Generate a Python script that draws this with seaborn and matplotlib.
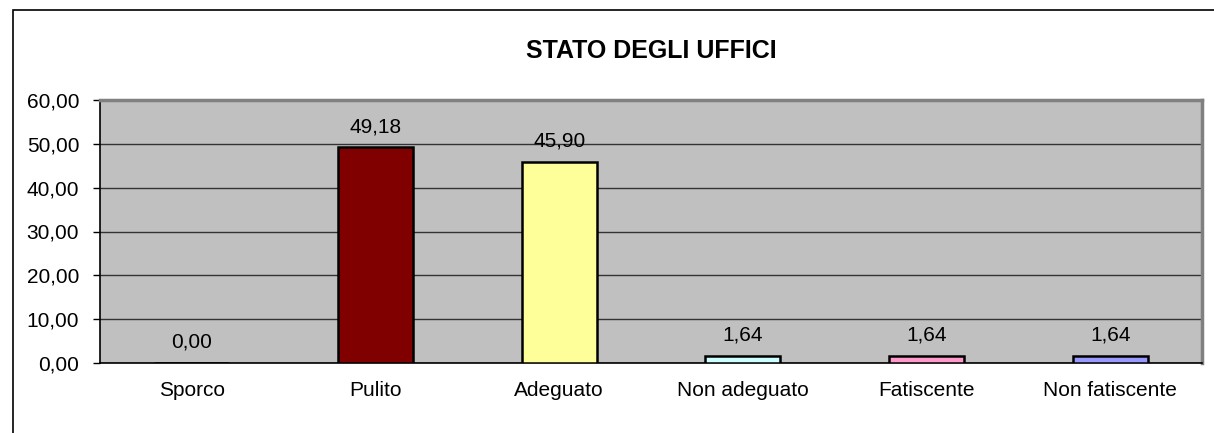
import matplotlib
matplotlib.use("Agg")
import matplotlib.pyplot as plt
import seaborn as sns
import pandas as pd
from matplotlib.patches import Rectangle
from matplotlib.ticker import FuncFormatter, FixedLocator

# dati del grafico
categorie = ["Sporco", "Pulito", "Adeguato", "Non adeguato", "Fatiscente", "Non fatiscente"]
valori = [0.00, 49.18, 45.90, 1.64, 1.64, 1.64]
colori = ["#9999FF", "#800000", "#FFFF99", "#CCFFFF", "#FF99CC", "#9999FF"]
titolo = "STATO DEGLI UFFICI"

df = pd.DataFrame({"categoria": categorie, "valore": valori})

sns.set_style("white")
plt.rcParams["font.family"] = ["Liberation Sans", "DejaVu Sans"]
plt.rcParams["text.color"] = "black"
plt.rcParams["xtick.color"] = "black"
plt.rcParams["ytick.color"] = "black"

fig = plt.figure(figsize=(12.14, 4.33), dpi=100)
ax = fig.add_axes([100 / 1214, 1 - 363 / 433, 1102 / 1214, 263 / 433])
ax.set_facecolor("#C0C0C0")

sns.barplot(data=df, x="categoria", y="valore", hue="categoria",
            palette=dict(zip(categorie, colori)), legend=False, saturation=1,
            width=0.41, edgecolor="black", linewidth=1.8, ax=ax, zorder=3)

# etichette dei valori
fs = 15
for cont, v in zip(ax.containers, valori):
    ax.bar_label(cont, labels=[f"{v:.2f}".replace(".", ",")], padding=8,
                 fontsize=fs, color="black")

ax.set_xlim(-0.5, len(categorie) - 0.5)
ax.set_ylim(0, 60)
ax.set_yticks(range(0, 61, 10))
ax.yaxis.set_major_formatter(FuncFormatter(lambda v, p: f"{v:.2f}".replace(".", ",")))
ax.grid(axis="y", color="#333333", linewidth=1, zorder=1)
ax.set_axisbelow(True)

ax.xaxis.set_minor_locator(FixedLocator([i - 0.5 for i in range(len(categorie) + 1)]))
ax.tick_params(axis="x", which="major", length=0, pad=13, labelsize=fs, labelcolor="black")
ax.tick_params(axis="x", which="minor", length=5, color="#666666", width=1, direction="out")
ax.tick_params(axis="y", length=5, width=1, color="black", direction="out", pad=10,
               labelsize=fs, left=True, labelcolor="black")

ax.set_xlabel("")
ax.set_ylabel("")

for s in ["top", "right"]:
    ax.spines[s].set_color("#808080")
    ax.spines[s].set_linewidth(2.5)
for s in ["left", "bottom"]:
    ax.spines[s].set_color("black")
    ax.spines[s].set_linewidth(1.2)

fig.text(651 / 1214, 1 - 51 / 433, titolo, ha="center", va="center",
         fontsize=18, fontweight="bold", color="black")

# bordo esterno del grafico
fig.patches.append(Rectangle((13 / 1214, -0.1), 1.2, 1.1 - 10 / 433,
                             transform=fig.transFigure, fill=False,
                             edgecolor="black", linewidth=1.2, clip_on=False))

fig.savefig("out.png", dpi=100)
